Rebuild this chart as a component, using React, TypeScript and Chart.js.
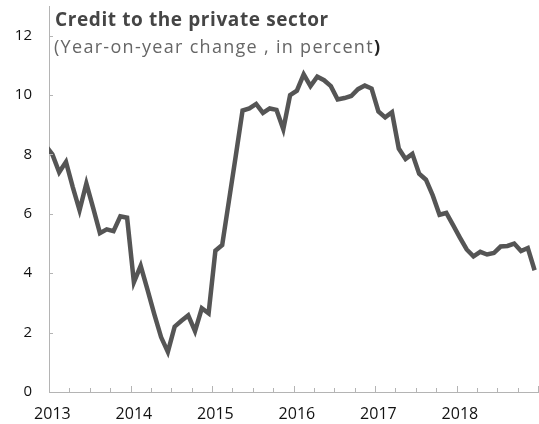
import React, { useEffect, useRef } from 'react';
import { Chart, registerables } from 'chart.js';

Chart.register(...registerables);

// ---- data ----
const YEAR_LABELS = ['2013', '2014', '2015', '2016', '2017', '2018'];
const Y_TICKS = [0, 2, 4, 6, 8, 10, 12];
const DEC_2012 = [8.3];
const CREDIT_2013 = [8.0, 7.4, 7.75, 6.9, 6.12, 7.02, 6.2, 5.35, 5.48, 5.42, 5.92, 5.87];
const CREDIT_2014 = [3.7, 4.25, 3.45, 2.62, 1.85, 1.35, 2.2, 2.4, 2.58, 2.05, 2.82, 2.65];
const CREDIT_2015 = [4.76, 4.95, 6.45, 7.95, 9.48, 9.55, 9.7, 9.4, 9.55, 9.5, 8.85, 10.0];
const CREDIT_2016 = [10.15, 10.7, 10.3, 10.62, 10.5, 10.3, 9.85, 9.9, 9.97, 10.2, 10.32, 10.22];
const CREDIT_2017 = [9.45, 9.25, 9.42, 8.2, 7.85, 8.02, 7.35, 7.15, 6.62, 5.97, 6.03, 5.62];
const CREDIT_2018 = [5.2, 4.8, 4.57, 4.72, 4.63, 4.68, 4.9, 4.92, 5.0, 4.75, 4.85, 4.1];

const TITLE = 'Credit to the private sector';
const SUBTITLE = '(Year-on-year change , in percent';

const SERIES = [
  ...DEC_2012,
  ...CREDIT_2013,
  ...CREDIT_2014,
  ...CREDIT_2015,
  ...CREDIT_2016,
  ...CREDIT_2017,
  ...CREDIT_2018,
];

const FONT = "'Open Sans', 'Noto Sans', sans-serif";
const AXIS_COLOR = '#b4b4b4';
const LINE_COLOR = '#555555';

const insideTicks = {
  id: 'insideTicks',
  afterDraw(chart: any) {
    const { ctx, chartArea, scales } = chart;
    const xs = scales.x;
    const ys = scales.y;
    ctx.save();
    ctx.strokeStyle = AXIS_COLOR;
    ctx.lineWidth = 1;
    ctx.beginPath();
    for (let m = 0; m <= YEAR_LABELS.length * 12; m += 3) {
      const px = Math.round(xs.getPixelForValue(m)) + 0.5;
      const len = m % 12 === 0 ? 6 : 4;
      ctx.moveTo(px, chartArea.bottom);
      ctx.lineTo(px, chartArea.bottom - len);
    }
    for (const v of Y_TICKS) {
      const py = Math.round(ys.getPixelForValue(v)) + 0.5;
      ctx.moveTo(chartArea.left, py);
      ctx.lineTo(chartArea.left + 4, py);
    }
    ctx.stroke();
    ctx.restore();
  },
};

export default function App() {
  const ref = useRef<HTMLCanvasElement | null>(null);

  useEffect(() => {
    if (!ref.current) return;
    const data = SERIES.map((v, i) => ({ x: i - 0.5, y: v }));
    const chart = new Chart(ref.current, {
      type: 'line',
      data: {
        datasets: [
          {
            data,
            borderColor: LINE_COLOR,
            borderWidth: 4.5,
            pointRadius: 0,
            tension: 0,
            clip: 0 as any,
          },
        ],
      },
      options: {
        animation: false,
        responsive: false,
        devicePixelRatio: 1,
        layout: { padding: { top: 6, right: 1, left: 0, bottom: 0 } },
        plugins: { legend: { display: false }, tooltip: { enabled: false }, title: { display: false } },
        scales: {
          x: {
            type: 'linear',
            min: 0,
            max: YEAR_LABELS.length * 12,
            grid: { display: false, drawTicks: false },
            border: { display: true, color: AXIS_COLOR, width: 1 },
            afterBuildTicks: (s: any) => {
              s.ticks = YEAR_LABELS.map((_, i) => ({ value: i * 12 + 0.5 }));
            },
            afterFit: (s: any) => {
              s.height = 32;
              s.paddingLeft = 0;
              s.paddingRight = 0;
            },
            ticks: {
              autoSkip: false,
              maxRotation: 0,
              padding: 13,
              color: '#111111',
              font: { family: FONT, size: 16 },
              callback: (_v: any, i: number) => YEAR_LABELS[i],
            },
          },
          y: {
            type: 'linear',
            min: 0,
            max: 13,
            grid: { display: false, drawTicks: false },
            border: { display: true, color: AXIS_COLOR, width: 1 },
            afterBuildTicks: (s: any) => {
              s.ticks = Y_TICKS.map((v) => ({ value: v }));
            },
            afterFit: (s: any) => {
              s.width = 49;
              s.paddingTop = 0;
              s.paddingBottom = 0;
            },
            ticks: {
              padding: 17,
              color: '#111111',
              font: { family: FONT, size: 15 },
              callback: (v: any) => String(v),
            },
          },
        },
      },
      plugins: [insideTicks],
    } as any);
    return () => chart.destroy();
  }, []);

  return (
    <div style={{ position: 'absolute', left: 0, top: 0, width: 539, height: 424, background: '#fff' }}>
      <canvas ref={ref} width={539} height={424} style={{ display: 'block' }} />
      <div
        style={{
          position: 'absolute',
          left: 55,
          top: 9,
          fontFamily: FONT,
          fontWeight: 700,
          fontSize: 19,
          letterSpacing: '0.6px',
          lineHeight: '20px',
          color: '#454545',
          whiteSpace: 'nowrap',
        }}
      >
        {TITLE}
      </div>
      <div
        style={{
          position: 'absolute',
          left: 54,
          top: 36,
          fontFamily: FONT,
          fontSize: 18,
          letterSpacing: '1.3px',
          lineHeight: '20px',
          color: '#666666',
          whiteSpace: 'nowrap',
        }}
      >
        {SUBTITLE}
        <span style={{ fontWeight: 700, color: '#222222' }}>)</span>
      </div>
    </div>
  );
}
